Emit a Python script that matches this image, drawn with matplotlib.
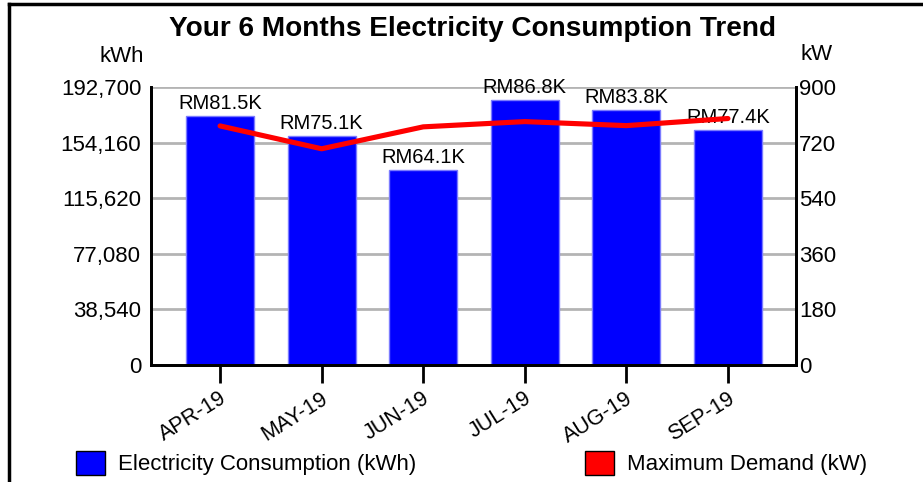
import matplotlib
matplotlib.use("Agg")
import matplotlib.pyplot as plt
import matplotlib.transforms as mtransforms
from matplotlib.patches import Patch
from matplotlib.lines import Line2D

plt.rcParams["font.family"] = ["Liberation Sans", "DejaVu Sans"]

# data
months = ["APR-19", "MAY-19", "JUN-19", "JUL-19", "AUG-19", "SEP-19"]
consumption_kwh = [172600, 158800, 135500, 183500, 177000, 163200]
bill_labels = ["RM81.5K", "RM75.1K", "RM64.1K", "RM86.8K", "RM83.8K", "RM77.4K"]
max_demand_kw = [774, 700, 771, 788, 775, 798]
kwh_ticks = [0, 38540, 77080, 115620, 154160, 192700]
kw_ticks = [0, 180, 360, 540, 720, 900]

fig = plt.figure(figsize=(9.23, 4.82), dpi=100)
ax = fig.add_axes([0.1636, 0.2427, 0.6988, 0.5768])
ax2 = ax.twinx()

x = list(range(len(months)))

# bars (kWh)
ax.bar(x, consumption_kwh, width=0.67, color="#0000ff", edgecolor="#7b7bff",
       linewidth=1, zorder=2)
ax.set_ylim(0, kwh_ticks[-1])
ax.set_xlim(-0.68, 5.67)
ax.set_yticks(kwh_ticks)
ax.set_yticklabels([f"{v:,}" for v in kwh_ticks])
ax.grid(axis="y", color="#b4b4b4", linewidth=2, zorder=0)
ax.set_axisbelow(True)

for xi, v, lab in zip(x, consumption_kwh, bill_labels):
    ax.annotate(lab, (xi, v), xytext=(0, 5), textcoords="offset points",
                ha="center", va="baseline", fontsize=14.5, zorder=3)

# line (kW)
ax2.plot(x, max_demand_kw, color="#ff0000", linewidth=3.7, solid_capstyle="round",
         solid_joinstyle="round", zorder=5)
ax2.set_ylim(0, kw_ticks[-1])
ax2.set_yticks(kw_ticks)
ax2.set_zorder(ax.get_zorder() + 1)
ax2.patch.set_visible(False)

# spines and ticks
for a in (ax, ax2):
    a.spines["top"].set_visible(False)
    for s in ("left", "right", "bottom"):
        a.spines[s].set_linewidth(2)
        a.spines[s].set_color("black")
ax.tick_params(axis="y", length=0, labelsize=16, pad=7)
ax2.tick_params(axis="y", length=0, labelsize=16, pad=2)
ax.tick_params(axis="x", length=13, width=2, direction="out")
ax.set_xticks(x)
ax.set_xticklabels(months, rotation=32, ha="right", fontsize=15.5)
offset = mtransforms.ScaledTranslation(10 / 100, 0, fig.dpi_scale_trans)
for lab in ax.get_xticklabels():
    lab.set_transform(lab.get_transform() + offset)

# title and unit labels
fig.text(0.512, 0.94, "Your 6 Months Electricity Consumption Trend",
         ha="center", va="center", fontsize=20.2, fontweight="bold")
fig.text(144 / 923, 1 - 57 / 482, "kWh", ha="right", va="center", fontsize=16)
fig.text(800 / 923, 1 - 55 / 482, "kW", ha="left", va="center", fontsize=16)

# legend entries
leg1 = fig.legend(handles=[Patch(facecolor="#0000ff", edgecolor="black", linewidth=1)],
                  labels=["Electricity Consumption (kWh)"], loc="center left",
                  bbox_to_anchor=(76 / 923, 1 - 463 / 482), frameon=False, fontsize=16,
                  handlelength=1.3, handleheight=1.3, handletextpad=0.6,
                  borderpad=0, borderaxespad=0)
leg2 = fig.legend(handles=[Patch(facecolor="#ff0000", edgecolor="black", linewidth=1)],
                  labels=["Maximum Demand (kW)"], loc="center left",
                  bbox_to_anchor=(585 / 923, 1 - 463 / 482), frameon=False, fontsize=16,
                  handlelength=1.3, handleheight=1.3, handletextpad=0.6,
                  borderpad=0, borderaxespad=0)

# outer border (top and left)
fig.add_artist(Line2D([9 / 923, 1], [1 - 4 / 482, 1 - 4 / 482], color="black",
                      linewidth=2.5, transform=fig.transFigure))
fig.add_artist(Line2D([9 / 923, 9 / 923], [0, 1 - 4 / 482], color="black",
                      linewidth=2.5, transform=fig.transFigure))

fig.savefig("out.png", dpi=100)
